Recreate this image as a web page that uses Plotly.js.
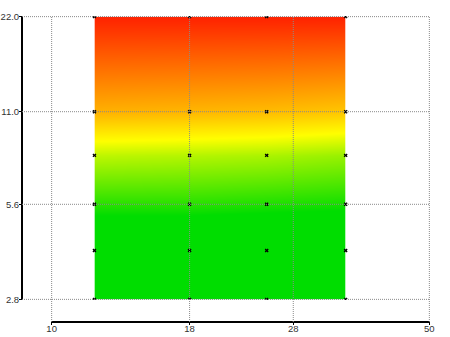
<!DOCTYPE html>
<html>
<head>
<meta charset="utf-8">
<script src="https://cdn.plot.ly/plotly-3.0.1.min.js"></script>
<style>html,body{margin:0;padding:0;background:#fff}#chart{width:450px;height:337px}</style>
</head>
<body>
<div id="chart"></div>
<script>
// grid point coordinates
var xValues = [12, 18, 25, 35];
var yValues = [2.8, 4, 5.6, 8, 11, 22];
// colour level at each grid point (rows follow yValues, columns follow xValues)
var row2p8 = [0.10, 0.10, 0.10, 0.10];
var row4   = [0.20, 0.20, 0.19, 0.18];
var row5p6 = [0.37, 0.37, 0.36, 0.35];
var row8   = [0.53, 0.52, 0.51, 0.49];
var row11  = [0.74, 0.73, 0.72, 0.70];
var row22  = [1.00, 1.00, 1.00, 1.00];
// axis ticks
var xTicks = [10, 18, 28, 50];
var xTickText = ['10', '18', '28', '50'];
var yTicks = [2.8, 5.6, 11, 22];
var yTickText = ['2.8', '5.6', '11.0', '22.0'];

var zRows = [row2p8, row4, row5p6, row8, row11, row22];

var colorscale = [
  [0.0, 'rgb(0,221,0)'],
  [0.33, 'rgb(0,221,0)'],
  [0.6, 'rgb(255,255,0)'],
  [1.0, 'rgb(255,34,0)']
];

var ptsX = [], ptsY = [];
yValues.forEach(function (yv) {
  xValues.forEach(function (xv) { ptsX.push(xv); ptsY.push(yv); });
});

var surface = {
  type: 'contour',
  x: xValues, y: yValues, z: zRows,
  colorscale: colorscale, zauto: false, zmin: 0, zmax: 1,
  showscale: false,
  contours: {coloring: 'heatmap', showlines: false},
  line: {width: 0},
  hoverinfo: 'skip'
};

var markers = {
  type: 'scatter', mode: 'markers',
  x: ptsX, y: ptsY,
  marker: {symbol: 'x', size: 3.5, color: '#000', line: {width: 0}},
  hoverinfo: 'skip'
};

var xDom = [51 / 450, 430 / 450];
var yDom = [1 - 300 / 337, 1 - 16 / 337];
var yAxisPos = 22 / 450;
var xAxisPos = 1 - 322 / 337;

var shapes = [];
var gridLine = {color: '#8a8a8a', width: 1, dash: '1px,1px'};
yTicks.forEach(function (t) {
  shapes.push({type: 'line', layer: 'above', xref: 'paper', yref: 'y',
    x0: yAxisPos, x1: xDom[1], y0: t, y1: t, line: gridLine});
});
xTicks.forEach(function (t) {
  shapes.push({type: 'line', layer: 'above', xref: 'x', yref: 'paper',
    x0: t, x1: t, y0: xAxisPos, y1: yDom[1], line: gridLine});
});

var tickFont = {family: 'Liberation Sans, Arial, sans-serif', size: 9.5, color: '#333'};

var layout = {
  width: 450, height: 337,
  margin: {l: 0, r: 0, t: 0, b: 0},
  paper_bgcolor: '#fff', plot_bgcolor: '#fff',
  showlegend: false,
  xaxis: {
    type: 'log', domain: xDom, anchor: 'free', position: xAxisPos,
    range: [Math.log10(xTicks[0]) - 0.0012, Math.log10(xTicks[xTicks.length - 1]) + 0.0012],
    tickvals: xTicks, ticktext: xTickText, tickfont: tickFont,
    showgrid: false, zeroline: false,
    showline: true, linecolor: '#000', linewidth: 2,
    ticks: 'outside', ticklen: 2, tickwidth: 1, tickcolor: '#000',
    ticklabelstandoff: -4
  },
  yaxis: {
    type: 'log', domain: yDom, anchor: 'free', position: yAxisPos,
    range: [Math.log10(yTicks[0]) - 0.002, Math.log10(yTicks[yTicks.length - 1]) + 0.002],
    tickvals: yTicks, ticktext: yTickText, tickfont: tickFont,
    showgrid: false, zeroline: false,
    showline: true, linecolor: '#000', linewidth: 2,
    ticks: 'outside', ticklen: 2, tickwidth: 1, tickcolor: '#000',
    ticklabelstandoff: -2
  },
  shapes: shapes
};

Plotly.newPlot('chart', [surface, markers], layout, {displayModeBar: false, staticPlot: true});
</script>
</body>
</html>
